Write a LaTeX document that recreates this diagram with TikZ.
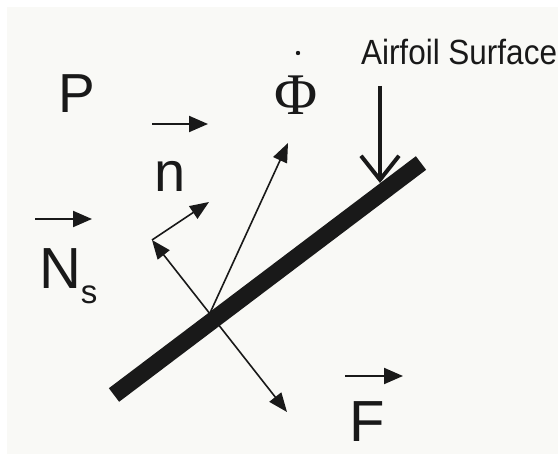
\documentclass[tikz,border=0pt]{standalone}
\usepackage{fontspec}
\setmainfont{Liberation Sans}
\newfontfamily\phifont{Liberation Serif}
\newfontfamily\narrowfont[FakeStretch=0.9]{Liberation Sans}
\usetikzlibrary{arrows.meta}
\definecolor{ink}{RGB}{25,25,25}
\definecolor{paper}{RGB}{249,249,246}
\tikzset{
  lbl/.style={inner sep=0pt, outer sep=0pt, text=ink, anchor=base west},
  overarrow/.style={draw=ink, line width=2pt, -{Triangle[length=19pt,width=16pt]}},
  vec/.style={draw=ink, line width=1.6pt, -{Triangle[length=19pt,width=15pt]}},
  dvec/.style={draw=ink, line width=1.6pt, {Triangle[length=19pt,width=15pt]}-{Triangle[length=19pt,width=15pt]}},
  barline/.style={draw=ink, line width=17pt, line cap=butt},
  pointer/.style={draw=ink, line width=4pt, -{Straight Barb[length=24pt,width=38pt]}}
}
\begin{document}
\begin{tikzpicture}[x=1pt,y=-1pt]
\useasboundingbox (0,0) rectangle (558,454);
\fill[white] (0,0) rectangle (558,454);
\fill[paper] (7,7) rectangle (558,454);

% bar (airfoil surface)
\coordinate (b1) at (114,395);
\coordinate (b2) at (421,163);
\draw[barline] (b1) -- (b2);

% vectors
\coordinate (corner) at (152,240);
\coordinate (ftip) at (287,412);
\coordinate (ntip) at (209,202);
\coordinate (cross) at (210,313);
\coordinate (phitip) at (288,143);
\draw[dvec] (corner) -- (ftip);
\draw[vec] (corner) -- (ntip);
\draw[vec] (cross) -- (phitip);

% airfoil surface pointer
\node[lbl, font=\narrowfont\fontsize{35}{40}\selectfont] (af) at (361,65) {Airfoil Surface};
\coordinate (ptop) at (380,86);
\coordinate (pbot) at (380,183);
\draw[pointer] (ptop) -- (pbot);

% labels
\node[lbl, font=\fontsize{55}{60}\selectfont] (P) at (59,113) {P};
\node[lbl, font=\fontsize{56}{60}\selectfont] (n) at (154,192) {n};
\node[lbl, font=\fontsize{58}{60}\selectfont] (N) at (39,289) {N};
\node[lbl, font=\fontsize{33}{36}\selectfont] (s) at (81,304) {s};
\node[lbl, font=\fontsize{58}{60}\selectfont] (F) at (349,442) {F};
\node[inner sep=0pt, outer sep=0pt, text=ink, anchor=base, font=\phifont\fontsize{59}{60}\selectfont] (phi) at (296.5,115) {Φ};
\fill[ink] (298,53) circle (2.2) node (phidot) {};

% arrows over letters
\coordinate (na1) at (152,124); \coordinate (na2) at (208,124);
\coordinate (Na1) at (35,219);  \coordinate (Na2) at (92,219);
\coordinate (Fa1) at (345,376); \coordinate (Fa2) at (403,376);
\draw[overarrow] (na1) -- (na2);
\draw[overarrow] (Na1) -- (Na2);
\draw[overarrow] (Fa1) -- (Fa2);
\end{tikzpicture}
\end{document}
